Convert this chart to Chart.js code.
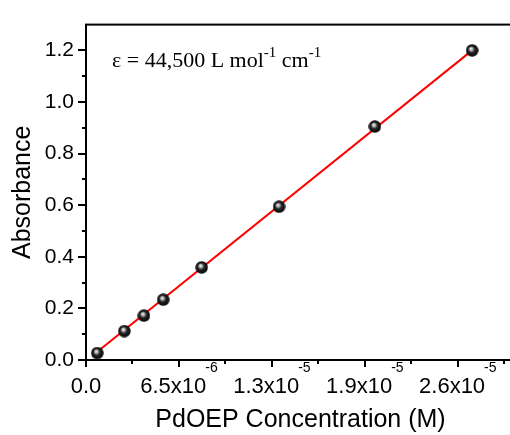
<!DOCTYPE html>
<html><head><meta charset="utf-8">
<script src="https://cdn.jsdelivr.net/npm/chart.js@4.4.0/dist/chart.umd.min.js"></script>
<style>html,body{margin:0;padding:0;background:#fff;overflow:hidden;}canvas{display:block;}</style>
</head><body>
<canvas id="c" width="530" height="435"></canvas>
<script>
// ---- data ----
const concentrations = [0.79e-6, 2.68e-6, 4.05e-6, 5.40e-6, 8.09e-6, 13.5e-6, 20.2e-6, 27.0e-6];
const absorbances    = [0.027, 0.112, 0.172, 0.234, 0.359, 0.594, 0.905, 1.200];
const fitConcentrations = [0.79e-6, 27.0e-6];
const fitAbsorbances    = [0.032, 1.200];
const xMajorTicks = [0, 6.5e-6, 1.3e-5, 1.95e-5, 2.6e-5];
const xMinorTicks = [3.25e-6, 9.75e-6, 1.625e-5, 2.275e-5, 2.925e-5];
const xTickLabels = ['0.0', '6.5x10^-6', '1.3x10^-5', '1.9x10^-5', '2.6x10^-5'];
const yMajorTicks = [0, 0.2, 0.4, 0.6, 0.8, 1.0, 1.2];
const yMinorTicks = [0.1, 0.3, 0.5, 0.7, 0.9, 1.1];
const yTickLabels = ['0.0', '0.2', '0.4', '0.6', '0.8', '1.0', '1.2'];
const xTitle = 'PdOEP Concentration (M)';
const yTitle = 'Absorbance';
const annotationParts = [['\u03B5 = 44,500 L mol', false], ['-1', true], [' cm', false], ['-1', true]];

const SANS = '"Liberation Sans", Arial, sans-serif';
const SERIF = '"Liberation Serif", "Times New Roman", serif';

// sphere marker
function makeBall(d) {
  const cv = document.createElement('canvas');
  cv.width = d; cv.height = d;
  const g = cv.getContext('2d');
  const r = d / 2;
  const grad = g.createRadialGradient(r * 0.8, r * 0.7, 0, r, r, r);
  grad.addColorStop(0, '#ffffff');
  grad.addColorStop(0.25, '#b0b0b0');
  grad.addColorStop(0.5, '#262626');
  grad.addColorStop(1, '#000000');
  g.fillStyle = grad;
  g.beginPath(); g.arc(r, r, r - 0.3, 0, Math.PI * 2); g.fill();
  return cv;
}
const ball = makeBall(13);

const framePlugin = {
  id: 'frame',
  afterDraw(chart) {
    const { ctx, chartArea: a, scales: { x, y } } = chart;
    ctx.save();
    ctx.strokeStyle = '#000';
    ctx.lineWidth = 2;
    ctx.strokeRect(a.left, a.top, a.right - a.left, a.bottom - a.top);
    ctx.beginPath();
    yMajorTicks.forEach(v => { const p = Math.round(y.getPixelForValue(v)); ctx.moveTo(a.left, p); ctx.lineTo(a.left - 8, p); });
    yMinorTicks.forEach(v => { const p = Math.round(y.getPixelForValue(v)); ctx.moveTo(a.left, p); ctx.lineTo(a.left - 4, p); });
    xMajorTicks.forEach(v => { const p = Math.round(x.getPixelForValue(v)); ctx.moveTo(p, a.bottom); ctx.lineTo(p, a.bottom + 7); });
    xMinorTicks.forEach(v => { const p = Math.round(x.getPixelForValue(v)); ctx.moveTo(p, a.bottom); ctx.lineTo(p, a.bottom + 4); });
    ctx.stroke();

    // x tick labels with superscripts
    ctx.fillStyle = '#000';
    ctx.textAlign = 'left';
    ctx.textBaseline = 'alphabetic';
    xMajorTicks.forEach((v, i) => {
      const [base, sup] = xTickLabels[i].split('^');
      ctx.font = '22px ' + SANS;
      const wb = ctx.measureText(base).width;
      let ws = 0;
      if (sup) { ctx.font = '14px ' + SANS; ws = ctx.measureText(sup).width - 1; }
      const start = x.getPixelForValue(v) - (wb + ws) / 2;
      ctx.font = '22px ' + SANS;
      ctx.fillText(base, start, a.bottom + 33);
      if (sup) { ctx.font = '14px ' + SANS; ctx.fillText(sup, start + wb - 1, a.bottom + 12); }
    });

    // annotation
    let tx = a.left + 26;
    const ty = a.top + 42;
    annotationParts.forEach(([t, isSup]) => {
      ctx.font = (isSup ? '15px ' : '22px ') + SERIF;
      ctx.fillText(t, tx, isSup ? ty - 10 : ty);
      tx += ctx.measureText(t).width;
    });
    ctx.restore();
  }
};

new Chart(document.getElementById('c'), {
  type: 'scatter',
  data: {
    datasets: [
      {
        label: 'Data',
        data: concentrations.map((c, i) => ({ x: c, y: absorbances[i] })),
        pointStyle: ball,
        pointRadius: 6.5,
        order: 0
      },
      {
        label: 'Fit',
        type: 'line',
        data: fitConcentrations.map((c, i) => ({ x: c, y: fitAbsorbances[i] })),
        borderColor: '#ff0000',
        borderWidth: 2,
        pointRadius: 0,
        fill: false,
        order: 1
      }
    ]
  },
  options: {
    responsive: false,
    animation: false,
    clip: false,
    layout: { padding: { left: 0, top: 15, right: 15, bottom: 0 } },
    plugins: { legend: { display: false }, tooltip: { enabled: false } },
    scales: {
      x: {
        type: 'linear', min: 0, max: 3.0e-5,
        grid: { display: false, drawTicks: false },
        border: { display: false },
        ticks: { display: false },
        afterBuildTicks: s => { s.ticks = xMajorTicks.map(v => ({ value: v })); },
        afterFit: s => { s.height = 75; },
        title: { display: true, text: xTitle, color: '#000', font: { family: SANS, size: 25 }, padding: { top: 0, bottom: 0 } }
      },
      y: {
        type: 'linear', min: 0, max: 1.3,
        grid: { display: false, drawTicks: false },
        border: { display: false },
        ticks: {
          color: '#000', padding: 12, font: { family: SANS, size: 21 },
          callback: (v, i) => yTickLabels[i]
        },
        afterBuildTicks: s => { s.ticks = yMajorTicks.map(v => ({ value: v })); },
        afterFit: s => { s.width = 86; },
        title: { display: true, text: yTitle, color: '#000', font: { family: SANS, size: 25 }, padding: { top: 8, bottom: 0 } }
      }
    }
  },
  plugins: [framePlugin]
});
</script>
</body></html>
